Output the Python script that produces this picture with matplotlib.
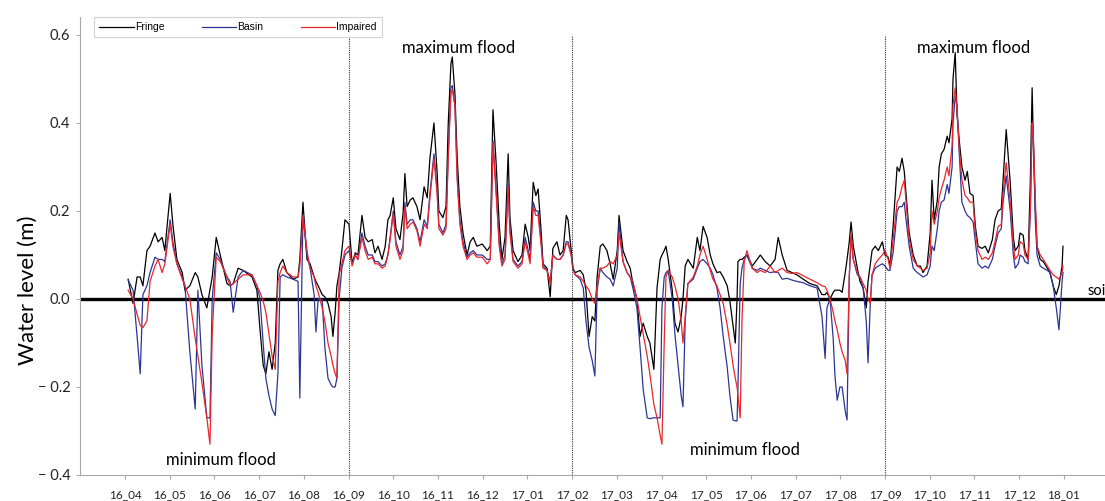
import matplotlib.pyplot as plt

plt.rcParams['font.family'] = ['Lato', 'DejaVu Sans']

month_labels = ['16_04', '16_05', '16_06', '16_07', '16_08', '16_09', '16_10',
                '16_11', '16_12', '17_01', '17_02', '17_03', '17_04', '17_05',
                '17_06', '17_07', '17_08', '17_09', '17_10', '17_11', '17_12',
                '18_01']
season_breaks = [5, 10, 17]

# sample times, months since April 2016
t = [
    0.07, 0.18, 0.27, 0.34, 0.40, 0.49, 0.56, 0.67, 0.74, 0.83,
    0.89, 1.01, 1.07, 1.16, 1.28, 1.34, 1.45, 1.57, 1.63, 1.72,
    1.83, 1.90, 1.95, 2.04, 2.13, 2.28, 2.35, 2.42, 2.53, 2.64,
    2.84, 2.95, 3.02, 3.09, 3.15, 3.22, 3.29, 3.36, 3.42, 3.47,
    3.53, 3.62, 3.76, 3.87, 3.91, 3.98, 4.07, 4.14, 4.23, 4.27,
    4.32, 4.41, 4.47, 4.54, 4.61, 4.65, 4.70, 4.74, 4.79, 4.85,
    4.92, 5.01,
    5.08, 5.15, 5.21, 5.30, 5.37, 5.44, 5.53, 5.59, 5.66, 5.75,
    5.82, 5.88, 5.93, 6.00, 6.06, 6.15, 6.22, 6.26, 6.31, 6.38,
    6.44, 6.53, 6.60, 6.69, 6.76, 6.82, 6.91, 6.98, 7.02, 7.11,
    7.18, 7.23, 7.29, 7.32, 7.38, 7.43, 7.49, 7.56, 7.65, 7.72,
    7.79, 7.87, 7.99, 8.10, 8.17, 8.23, 8.30, 8.37, 8.43, 8.50,
    8.57, 8.61, 8.68, 8.79, 8.88, 8.95, 9.02, 9.06, 9.13, 9.19,
    9.24, 9.31, 9.35, 9.44, 9.51, 9.57, 9.66, 9.73, 9.80, 9.87,
    9.91, 9.98, 10.02,
    10.07, 10.18, 10.25, 10.31, 10.38, 10.45, 10.51, 10.56, 10.63, 10.69,
    10.78, 10.85, 10.92, 11.01, 11.05, 11.14, 11.23, 11.30, 11.36, 11.45,
    11.52, 11.59, 11.68, 11.74, 11.83, 11.90, 11.97, 12.01, 12.06, 12.10,
    12.15, 12.24, 12.30, 12.37, 12.44, 12.48, 12.53, 12.59, 12.71, 12.80,
    12.86, 12.93, 13.02, 13.09, 13.15, 13.24, 13.31, 13.38, 13.47, 13.53,
    13.60, 13.65, 13.69, 13.71, 13.76, 13.80, 13.85, 13.91, 14.03, 14.14,
    14.21, 14.32, 14.43, 14.54, 14.61, 14.70, 14.81, 14.92, 15.03, 15.17,
    15.32, 15.48, 15.59, 15.66, 15.70, 15.77, 15.84, 15.88, 15.93, 15.99,
    16.04, 16.11, 16.15, 16.20, 16.24, 16.29, 16.38, 16.44, 16.51, 16.58,
    16.62, 16.67, 16.71, 16.78, 16.85, 16.94, 17.00,
    17.07, 17.11, 17.18, 17.27, 17.32, 17.38, 17.43, 17.47, 17.54, 17.63,
    17.72, 17.79, 17.85, 17.94, 18.01, 18.05, 18.10, 18.17, 18.21, 18.26,
    18.32, 18.39, 18.43, 18.50, 18.52, 18.57, 18.61, 18.66, 18.72, 18.79,
    18.84, 18.90, 18.97, 19.02, 19.08, 19.17, 19.24, 19.31, 19.40, 19.46,
    19.53, 19.60, 19.64, 19.71, 19.80, 19.87, 19.91, 19.98, 20.02, 20.09,
    20.13, 20.20, 20.25, 20.29, 20.31, 20.36, 20.40, 20.47, 20.54, 20.63,
    20.69, 20.76, 20.83, 20.89, 20.96, 20.98,
]

# water level (m) relative to the soil surface
fringe = [
    0.045, -0.01, 0.05, 0.05, 0.03, 0.11, 0.12, 0.15, 0.13, 0.14,
    0.11, 0.24, 0.17, 0.09, 0.06, 0.02, 0.03, 0.06, 0.05, 0.01,
    -0.02, 0.02, 0.05, 0.14, 0.10, 0.035, 0.03, 0.035, 0.07, 0.065,
    0.05, 0.02, -0.07, -0.15, -0.17, -0.12, -0.16, -0.10, 0.065, 0.08,
    0.09, 0.06, 0.045, 0.05, 0.09, 0.22, 0.09, 0.08, 0.05, 0.04,
    0.03, 0.01, 0.005, -0.01, -0.04, -0.085, -0.03, 0.03, 0.06, 0.11,
    0.18, 0.17,
    0.08, 0.105, 0.10, 0.19, 0.14, 0.13, 0.135, 0.105, 0.12, 0.09,
    0.12, 0.18, 0.19, 0.23, 0.16, 0.135, 0.195, 0.285, 0.21, 0.225,
    0.23, 0.21, 0.18, 0.255, 0.23, 0.32, 0.40, 0.29, 0.20, 0.185,
    0.21, 0.40, 0.535, 0.55, 0.465, 0.32, 0.21, 0.15, 0.10, 0.13,
    0.14, 0.12, 0.125, 0.11, 0.12, 0.43, 0.31, 0.17, 0.09, 0.14,
    0.33, 0.185, 0.11, 0.085, 0.10, 0.17, 0.14, 0.11, 0.265, 0.235,
    0.25, 0.15, 0.08, 0.07, 0.005, 0.115, 0.13, 0.10, 0.11, 0.19,
    0.18, 0.11, 0.07,
    0.06, 0.065, 0.055, 0.02, -0.085, -0.04, -0.05, 0.05, 0.12, 0.125,
    0.11, 0.08, 0.045, 0.11, 0.19, 0.11, 0.085, 0.07, 0.035, 0.0,
    -0.085, -0.055, -0.085, -0.10, -0.16, 0.025, 0.09, 0.10, 0.11, 0.12,
    0.09, 0.02, -0.055, -0.075, -0.04, 0.0, 0.075, 0.09, 0.07, 0.14,
    0.11, 0.165, 0.14, 0.10, 0.08, 0.06, 0.062, 0.05, 0.03, -0.005,
    -0.06, -0.10, 0.0, 0.085, 0.09, 0.09, 0.095, 0.10, 0.075, 0.09,
    0.10, 0.085, 0.075, 0.09, 0.14, 0.10, 0.065, 0.06, 0.055, 0.045,
    0.035, 0.03, 0.01, 0.01, 0.015, 0.0, 0.015, 0.02, 0.02, 0.02,
    0.015, 0.06, 0.09, 0.13, 0.175, 0.12, 0.07, 0.04, 0.025, -0.02,
    0.04, 0.08, 0.11, 0.12, 0.11, 0.13, 0.10,
    0.095, 0.075, 0.165, 0.30, 0.29, 0.32, 0.29, 0.24, 0.15, 0.10,
    0.075, 0.075, 0.06, 0.075, 0.15, 0.27, 0.18, 0.225, 0.30, 0.33,
    0.34, 0.37, 0.355, 0.41, 0.50, 0.56, 0.42, 0.36, 0.30, 0.27,
    0.29, 0.24, 0.235, 0.165, 0.12, 0.115, 0.12, 0.105, 0.135, 0.18,
    0.20, 0.205, 0.27, 0.385, 0.265, 0.14, 0.11, 0.12, 0.15, 0.145,
    0.11, 0.09, 0.27, 0.48, 0.39, 0.21, 0.12, 0.09, 0.085, 0.07,
    0.06, 0.03, 0.01, 0.03, 0.075, 0.12,
]

basin = [
    0.043, 0.02, -0.085, -0.17, 0.01, 0.03, 0.06, 0.095, 0.09, 0.09,
    0.085, 0.18, 0.13, 0.08, 0.05, 0.03, -0.12, -0.25, 0.02, -0.15,
    -0.27, -0.27, 0.0, 0.105, 0.09, 0.05, 0.04, -0.03, 0.05, 0.065,
    0.055, 0.03, 0.0, -0.10, -0.18, -0.22, -0.25, -0.265, -0.17, 0.05,
    0.055, 0.05, 0.045, 0.04, -0.225, 0.19, 0.10, 0.07, 0.01, -0.075,
    0.0, 0.0, -0.11, -0.18, -0.195, -0.20, -0.20, -0.18, 0.0, 0.07,
    0.10, 0.11,
    0.08, 0.10, 0.09, 0.15, 0.12, 0.10, 0.10, 0.085, 0.085, 0.075,
    0.08, 0.10, 0.14, 0.20, 0.13, 0.10, 0.12, 0.22, 0.17, 0.18,
    0.18, 0.16, 0.13, 0.18, 0.165, 0.24, 0.33, 0.25, 0.17, 0.15,
    0.17, 0.33, 0.48, 0.485, 0.44, 0.28, 0.18, 0.13, 0.095, 0.105,
    0.11, 0.10, 0.10, 0.09, 0.09, 0.36, 0.25, 0.13, 0.08, 0.10,
    0.26, 0.16, 0.09, 0.075, 0.085, 0.14, 0.11, 0.09, 0.22, 0.20,
    0.20, 0.13, 0.075, 0.065, 0.04, 0.10, 0.09, 0.09, 0.10, 0.13,
    0.13, 0.10, 0.07,
    0.055, 0.045, 0.025, -0.05, -0.11, -0.14, -0.175, 0.02, 0.07, 0.06,
    0.05, 0.045, 0.03, 0.07, 0.175, 0.085, 0.06, 0.05, 0.025, -0.02,
    -0.11, -0.205, -0.27, -0.272, -0.27, -0.27, -0.27, -0.02, 0.05, 0.06,
    0.065, 0.0, -0.08, -0.15, -0.22, -0.245, -0.05, 0.035, 0.045, 0.07,
    0.085, 0.09, 0.08, 0.07, 0.055, 0.025, -0.02, -0.085, -0.155, -0.22,
    -0.275, -0.277, -0.277, -0.20, 0.035, 0.07, 0.09, 0.10, 0.07, 0.065,
    0.07, 0.065, 0.06, 0.062, 0.06, 0.045, 0.047, 0.043, 0.04, 0.037,
    0.03, 0.025, -0.04, -0.135, -0.02, 0.0, -0.09, -0.175, -0.23, -0.20,
    -0.20, -0.255, -0.275, 0.05, 0.14, 0.09, 0.055, 0.05, 0.025, -0.05,
    -0.145, -0.01, 0.055, 0.07, 0.075, 0.08, 0.075,
    0.065, 0.065, 0.105, 0.20, 0.21, 0.21, 0.22, 0.18, 0.12, 0.07,
    0.06, 0.055, 0.05, 0.055, 0.075, 0.12, 0.11, 0.16, 0.20, 0.22,
    0.225, 0.26, 0.24, 0.30, 0.40, 0.46, 0.44, 0.33, 0.22, 0.20,
    0.19, 0.185, 0.175, 0.13, 0.08, 0.07, 0.075, 0.07, 0.09, 0.12,
    0.15, 0.16, 0.22, 0.28, 0.20, 0.10, 0.07, 0.08, 0.10, 0.095,
    0.085, 0.08, 0.20, 0.40, 0.39, 0.18, 0.10, 0.075, 0.07, 0.065,
    0.06, 0.03, -0.02, -0.07, 0.04, 0.06,
]

impaired = [
    0.02, 0.0, -0.035, -0.06, -0.065, -0.05, 0.04, 0.075, 0.09, 0.06,
    0.08, 0.17, 0.12, 0.08, 0.045, 0.03, 0.0, -0.09, -0.13, -0.19,
    -0.27, -0.33, -0.08, 0.095, 0.085, 0.05, 0.03, 0.035, 0.045, 0.055,
    0.055, 0.03, 0.015, -0.005, -0.03, -0.08, -0.13, -0.16, 0.04, 0.06,
    0.075, 0.06, 0.05, 0.05, 0.075, 0.19, 0.11, 0.07, 0.05, 0.03,
    0.015, -0.02, -0.05, -0.10, -0.13, -0.15, -0.17, -0.18, 0.055, 0.08,
    0.11, 0.12,
    0.075, 0.10, 0.09, 0.14, 0.11, 0.09, 0.095, 0.08, 0.08, 0.07,
    0.075, 0.10, 0.135, 0.195, 0.12, 0.09, 0.11, 0.21, 0.16, 0.17,
    0.175, 0.155, 0.12, 0.17, 0.16, 0.23, 0.32, 0.24, 0.16, 0.145,
    0.16, 0.32, 0.47, 0.475, 0.44, 0.27, 0.17, 0.12, 0.09, 0.10,
    0.105, 0.095, 0.095, 0.08, 0.09, 0.355, 0.24, 0.12, 0.075, 0.09,
    0.255, 0.15, 0.085, 0.07, 0.08, 0.13, 0.10, 0.08, 0.21, 0.19,
    0.19, 0.12, 0.07, 0.065, 0.035, 0.10, 0.09, 0.09, 0.10, 0.125,
    0.125, 0.10, 0.065,
    0.055, 0.05, 0.04, 0.03, 0.02, 0.0, -0.01, 0.03, 0.07, 0.07,
    0.075, 0.085, 0.08, 0.10, 0.15, 0.085, 0.06, 0.05, 0.04, 0.0,
    -0.04, -0.08, -0.13, -0.17, -0.24, -0.27, -0.31, -0.33, -0.10, 0.05,
    0.065, 0.05, 0.03, 0.0, -0.05, -0.10, -0.04, 0.035, 0.05, 0.075,
    0.10, 0.12, 0.09, 0.065, 0.045, 0.03, 0.01, -0.01, -0.06, -0.10,
    -0.15, -0.18, -0.20, -0.22, -0.27, -0.05, 0.085, 0.11, 0.07, 0.06,
    0.065, 0.06, 0.075, 0.06, 0.065, 0.07, 0.06, 0.058, 0.06, 0.053,
    0.045, 0.037, 0.03, 0.028, 0.02, 0.0, -0.03, -0.05, -0.07, -0.10,
    -0.12, -0.14, -0.17, 0.05, 0.15, 0.09, 0.06, 0.05, 0.035, 0.02,
    0.0, -0.01, 0.055, 0.08, 0.09, 0.10, 0.11,
    0.09, 0.07, 0.135, 0.22, 0.23, 0.255, 0.27, 0.22, 0.135, 0.09,
    0.075, 0.07, 0.065, 0.07, 0.105, 0.20, 0.17, 0.20, 0.23, 0.25,
    0.27, 0.30, 0.28, 0.35, 0.44, 0.48, 0.43, 0.34, 0.27, 0.235,
    0.23, 0.22, 0.22, 0.15, 0.11, 0.09, 0.095, 0.09, 0.105, 0.13,
    0.165, 0.17, 0.24, 0.31, 0.22, 0.12, 0.09, 0.10, 0.13, 0.125,
    0.10, 0.09, 0.20, 0.40, 0.39, 0.23, 0.12, 0.10, 0.09, 0.075,
    0.065, 0.055, 0.05, 0.045, 0.06, 0.075,
]

fig = plt.figure(figsize=(11.05, 5.01), dpi=100)
ax = fig.add_axes([80 / 1105, 26 / 501, 1025 / 1105, 457.6 / 501])

ax.plot(t, fringe, color='black', lw=0.9, label='Fringe')
ax.plot(t, basin, color='#2c3596', lw=0.9, label='Basin')
ax.plot(t, impaired, color='#e8262d', lw=0.9, label='Impaired')

# soil surface and season boundaries
ax.axhline(0, color='black', lw=2.4, zorder=1)
ax.vlines(season_breaks, -0.4, 0.6, colors='#333333', linestyles=(0, (1, 1)),
          lw=0.8)

ax.set_xlim(-1.007, 21.92)
ax.set_ylim(-0.4, 0.64)

for side in ['top', 'right']:
    ax.spines[side].set_visible(False)
for side in ['left', 'bottom']:
    ax.spines[side].set_color('#a8a8a8')
    ax.spines[side].set_linewidth(0.8)

yticks = [-0.4, -0.2, 0.0, 0.2, 0.4, 0.6]
ax.set_yticks(yticks)
ax.set_yticklabels([f'\u2212 {abs(v):.1f}' if v < 0 else f'{v:.1f}' for v in yticks])
ax.tick_params(axis='y', length=3, color='#a8a8a8', labelsize=10.5, pad=4,
               labelcolor='#222222')

ax.set_xticks(range(len(month_labels)))
ax.set_xticklabels(month_labels)
ax.tick_params(axis='x', length=3, color='#a8a8a8', labelsize=8.5, pad=7,
               labelcolor='#222222')

fig.text(28 / 1105, 1 - 290 / 501, 'Water level (m)', rotation=90,
         fontsize=16, ha='center', va='center')

ax.text(7.45, 0.57, 'maximum flood', ha='center', va='center', fontsize=12)
ax.text(18.97, 0.57, 'maximum flood', ha='center', va='center', fontsize=12)
ax.text(2.15, -0.366, 'minimum flood', ha='center', va='center', fontsize=12)
ax.text(13.87, -0.343, 'minimum flood', ha='center', va='center', fontsize=12)
ax.text(21.52, 0.018, 'soi', ha='left', va='center', fontsize=10.5)

leg = ax.legend(loc='upper left', bbox_to_anchor=(94 / 1105, 1 - 17 / 501),
                bbox_transform=fig.transFigure, ncol=3, fancybox=False,
                edgecolor='#c8c8c8', prop={'family': 'Liberation Sans', 'size': 7.5},
                handlelength=3.3, handletextpad=0.1, columnspacing=3.6,
                borderaxespad=0, borderpad=0.5)
leg.get_frame().set_linewidth(0.8)

fig.savefig('out.png', dpi=100)
